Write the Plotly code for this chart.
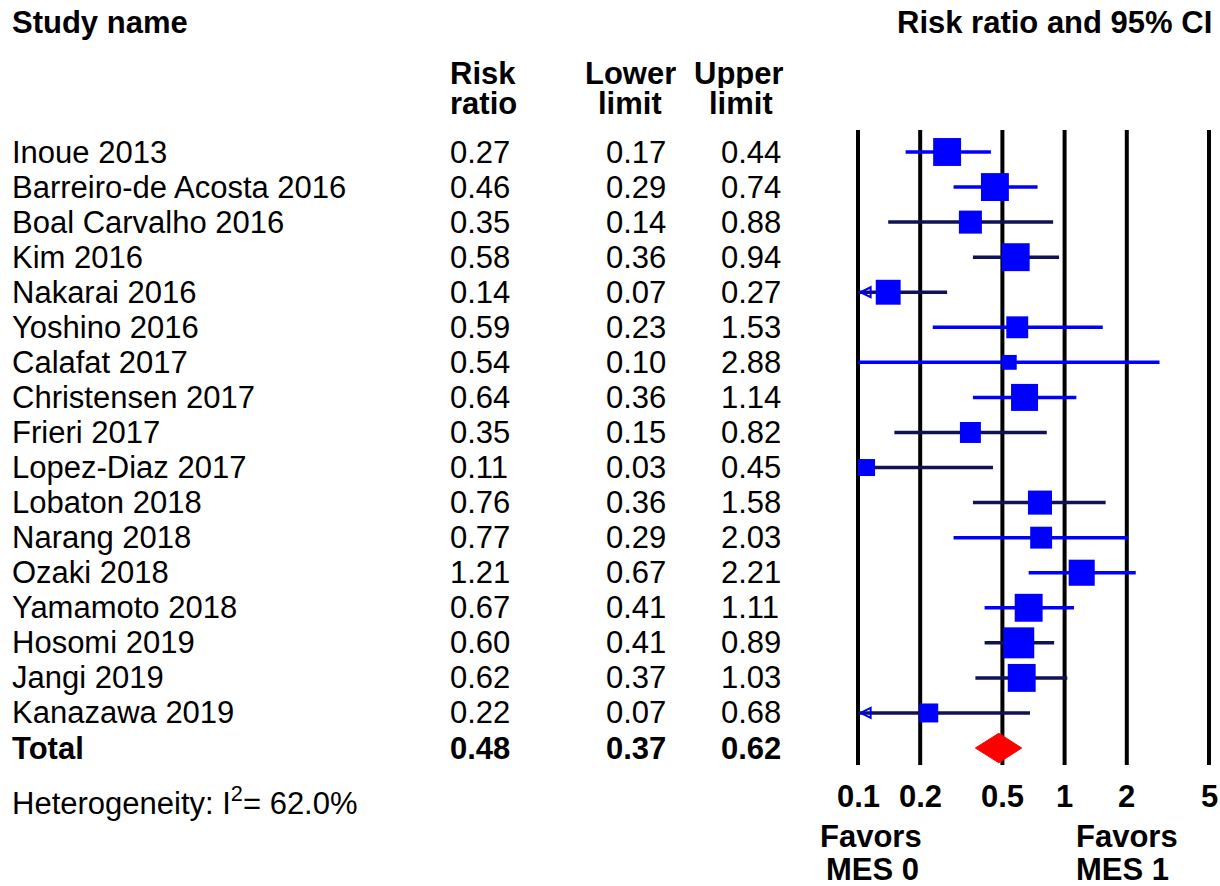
import numpy as np
import plotly.graph_objects as go

# ---------------- data ----------------
studies = ["Inoue 2013", "Barreiro-de Acosta 2016", "Boal Carvalho 2016", "Kim 2016",
           "Nakarai 2016", "Yoshino 2016", "Calafat 2017", "Christensen 2017",
           "Frieri 2017", "Lopez-Diaz 2017", "Lobaton 2018", "Narang 2018",
           "Ozaki 2018", "Yamamoto 2018", "Hosomi 2019", "Jangi 2019", "Kanazawa 2019"]
risk_ratio = [0.27, 0.46, 0.35, 0.58, 0.14, 0.59, 0.54, 0.64, 0.35, 0.11,
              0.76, 0.77, 1.21, 0.67, 0.60, 0.62, 0.22]
lower_limit = [0.17, 0.29, 0.14, 0.36, 0.07, 0.23, 0.10, 0.36, 0.15, 0.03,
               0.36, 0.29, 0.67, 0.41, 0.41, 0.37, 0.07]
upper_limit = [0.44, 0.74, 0.88, 0.94, 0.27, 1.53, 2.88, 1.14, 0.82, 0.45,
               1.58, 2.03, 2.21, 1.11, 0.89, 1.03, 0.68]
# relative study weights
weights = [7.8, 7.8, 5.3, 7.8, 6.2, 4.8, 2.2, 7.3, 4.4, 2.9,
           5.8, 4.8, 6.8, 7.8, 9.6, 7.8, 3.6]
total = {"label": "Total", "rr": 0.48, "lo": 0.37, "hi": 0.62}
heterogeneity_i2 = 62.0
tick_vals = [0.1, 0.2, 0.5, 1, 2, 5]
tick_text = ["0.1", "0.2", "0.5", "1", "2", "5"]
favors_left = ["Favors", "MES 0"]
favors_right = ["Favors", "MES 1"]

# ---------------- style ----------------
W, H = 1220, 886
FONT = "Liberation Sans"
FS = 31
BLUE = "#0000ff"
NAVY = "#111155"
line_colors = [BLUE, BLUE, NAVY, NAVY, NAVY, BLUE, BLUE, BLUE, NAVY, NAVY,
               NAVY, BLUE, BLUE, BLUE, NAVY, NAVY, NAVY]
AXMIN = 0.1

ROW0, ROWH = 152, 35.06  # pixel centre of first row, row pitch
def ypix(p):
    return (p - ROW0) / ROWH
def xpap(p):
    return p / W

n = len(studies)
rows = list(range(n))
total_row = n

fig = go.Figure()

# vertical reference lines at tick values
gx, gy = [], []
for v in tick_vals:
    gx += [v, v, None]
    gy += [ypix(130), ypix(765), None]
fig.add_trace(go.Scatter(x=gx, y=gy, mode="lines",
                         line=dict(color="black", width=4), hoverinfo="skip"))

# confidence interval lines (clipped at axis minimum)
for i in rows:
    lo = max(lower_limit[i], AXMIN)
    fig.add_trace(go.Scatter(x=[lo, upper_limit[i]], y=[i, i], mode="lines",
                             line=dict(color=line_colors[i], width=3.5),
                             hoverinfo="skip"))

# arrows for truncated intervals
arr_rows = [i for i in rows if lower_limit[i] < AXMIN and risk_ratio[i] > AXMIN * 1.3]
fig.add_trace(go.Scatter(x=[AXMIN * 1.03] * len(arr_rows), y=arr_rows, mode="markers",
                         marker=dict(symbol="arrow-left-open", size=10, opacity=1,
                                     color=BLUE, line=dict(color=BLUE, width=2)),
                         hoverinfo="skip"))

# point estimate boxes
sizes = [10 * np.sqrt(w) for w in weights]
fig.add_trace(go.Scatter(x=risk_ratio, y=rows, mode="markers", opacity=1,
                         marker=dict(symbol="square", size=sizes, color=BLUE, opacity=1,
                                     line=dict(width=0)),
                         hoverinfo="skip"))

# total diamond
dh = 0.42
fig.add_trace(go.Scatter(x=[total["lo"], total["rr"], total["hi"], total["rr"], total["lo"]],
                         y=[total_row, total_row - dh, total_row, total_row + dh, total_row],
                         mode="lines", fill="toself", fillcolor="#ff0000",
                         line=dict(color="#ff0000", width=1), hoverinfo="skip"))

ann = []
def add(text, x, y, xanchor="left", bold=False, xref="paper", size=FS, height=None):
    t = f"<b>{text}</b>" if bold else text
    a = dict(text=t, x=x, y=y, xref=xref, yref="y", xanchor=xanchor,
             yanchor="middle", showarrow=False,
             font=dict(family=FONT, size=size, color="black"))
    if height:
        a["height"] = height
        a["valign"] = "middle"
    ann.append(a)

# headers
add("Study name", xpap(10), ypix(22), bold=True)
add("Risk ratio and 95% CI", xpap(1214), ypix(22), xanchor="right", bold=True)
add("Risk", xpap(448), ypix(73), bold=True, height=29)
add("ratio", xpap(448), ypix(103), bold=True, height=29)
add("Lower", xpap(630), ypix(73), xanchor="center", bold=True, height=29)
add("limit", xpap(630), ypix(103), xanchor="center", bold=True, height=29)
add("Upper", xpap(739), ypix(73), xanchor="center", bold=True, height=29)
add("limit", xpap(741), ypix(103), xanchor="center", bold=True, height=29)

# study rows
for i in rows:
    add(studies[i], xpap(10), i)
    add(f"{risk_ratio[i]:.2f}", xpap(448), i)
    add(f"{lower_limit[i]:.2f}", xpap(604), i)
    add(f"{upper_limit[i]:.2f}", xpap(719), i)

# total row
add(total["label"], xpap(10), total_row, bold=True)
add(f"{total['rr']:.2f}", xpap(448), total_row, bold=True)
add(f"{total['lo']:.2f}", xpap(604), total_row, bold=True)
add(f"{total['hi']:.2f}", xpap(719), total_row, bold=True)

add(f"Heterogeneity: I<sup>2</sup>= {heterogeneity_i2:.1f}%", xpap(10), ypix(801))

# tick labels
for v, t in zip(tick_vals, tick_text):
    add(t, np.log10(v), ypix(796), xanchor="center", bold=True, xref="x")

add(favors_left[0], xpap(871), ypix(836), xanchor="center", bold=True, height=30)
add(favors_left[1], xpap(872), ypix(869), xanchor="center", bold=True, height=30)
add(favors_right[0], xpap(1127), ypix(836), xanchor="center", bold=True, height=30)
add(favors_right[1], xpap(1122), ypix(869), xanchor="center", bold=True, height=30)

# axis geometry: log axis, 0.1 at px 858 and 5 at px 1209
px_per_dec = (1209 - 858) / (np.log10(5) - np.log10(0.1))
dom_l, dom_r = 848, 1219
xr = [-1 - (858 - dom_l) / px_per_dec, np.log10(5) + (dom_r - 1209) / px_per_dec]

fig.update_layout(
    width=W, height=H,
    margin=dict(l=0, r=0, t=0, b=0),
    paper_bgcolor="white", plot_bgcolor="white",
    showlegend=False,
    annotations=ann,
    xaxis=dict(type="log", range=xr, domain=[dom_l / W, dom_r / W],
               showgrid=False, zeroline=False, showticklabels=False, showline=False),
    yaxis=dict(range=[ypix(H), ypix(0)], domain=[0, 1],
               showgrid=False, zeroline=False, showticklabels=False, showline=False),
)

fig.write_html("out.html", config={"displayModeBar": False},
               post_script="document.body.style.margin='0';"
                           "document.body.style.overflow='hidden';")
